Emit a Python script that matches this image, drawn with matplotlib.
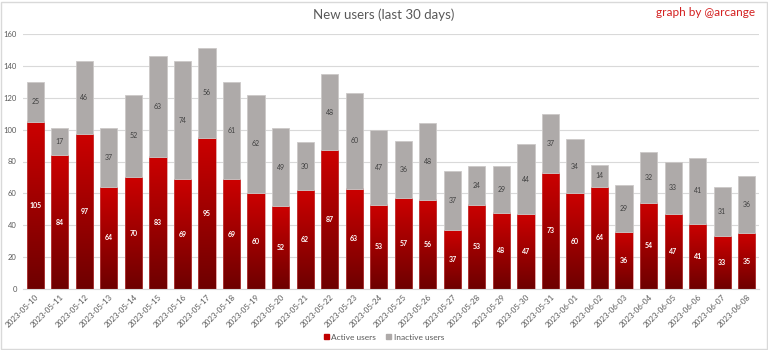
import numpy as np
import matplotlib
matplotlib.use("Agg")
import matplotlib.pyplot as plt
from matplotlib.colors import LinearSegmentedColormap
from matplotlib.patches import Rectangle

plt.rcParams['font.family'] = ['Lato', 'DejaVu Sans']

dates = ["2023-05-10", "2023-05-11", "2023-05-12", "2023-05-13", "2023-05-14",
         "2023-05-15", "2023-05-16", "2023-05-17", "2023-05-18", "2023-05-19",
         "2023-05-20", "2023-05-21", "2023-05-22", "2023-05-23", "2023-05-24",
         "2023-05-25", "2023-05-26", "2023-05-27", "2023-05-28", "2023-05-29",
         "2023-05-30", "2023-05-31", "2023-06-01", "2023-06-02", "2023-06-03",
         "2023-06-04", "2023-06-05", "2023-06-06", "2023-06-07", "2023-06-08"]
active = [105, 84, 97, 64, 70, 83, 69, 95, 69, 60, 52, 62, 87, 63, 53,
          57, 56, 37, 53, 48, 47, 73, 60, 64, 36, 54, 47, 41, 33, 35]
inactive = [25, 17, 46, 37, 52, 63, 74, 56, 61, 62, 49, 30, 48, 60, 47,
            36, 48, 37, 24, 29, 44, 37, 34, 14, 29, 32, 33, 41, 31, 36]
y_ticks = [0, 20, 40, 60, 80, 100, 120, 140, 160]

red_top = "#CC0000"
red_bottom = "#6E0000"
gray_fill = "#AEAAA9"
text_gray = "#595959"

fig = plt.figure(figsize=(7.68, 3.5), dpi=100)
fig.patch.set_facecolor("white")
ax = fig.add_axes([23 / 768, 61 / 350, 736 / 768, 255 / 350])

x = np.arange(len(dates))
width = 0.7
active_bars = ax.bar(x, active, width, color="none", edgecolor="#D06060",
                     linewidth=0.4, zorder=3, label="Active users")
inactive_bars = ax.bar(x, inactive, width, bottom=active, color=gray_fill,
                       edgecolor="#CCC9C8", linewidth=0.6, zorder=3,
                       label="Inactive users")

# vertical red gradient inside each active bar
cmap = LinearSegmentedColormap.from_list("redgrad", [red_bottom, red_top])
grad = np.linspace(0, 1, 256).reshape(-1, 1)
for bar in active_bars:
    bx, bw, bh = bar.get_x(), bar.get_width(), bar.get_height()
    ax.imshow(grad, cmap=cmap, origin="lower", aspect="auto",
              extent=(bx, bx + bw, 0, bh), zorder=2.5,
              interpolation="bicubic")

ax.set_xlim(-0.5, len(dates) - 0.5)
ax.set_ylim(0, 160)

# value labels centred in each segment
for i, (a, n) in enumerate(zip(active, inactive)):
    ax.text(i, a / 2, str(a), ha="center", va="center", fontsize=5,
            color="white", fontweight="bold", zorder=5)
    ax.text(i, a + n / 2, str(n), ha="center", va="center", fontsize=5,
            color="#404040", zorder=5)

ax.set_yticks(y_ticks)
ax.set_yticklabels([str(v) for v in y_ticks], fontsize=5.5, color=text_gray)
ax.set_xticks(x)
ax.set_xticklabels(dates, rotation=45, ha="right", rotation_mode="anchor",
                   fontsize=5.8, color=text_gray)
ax.tick_params(axis="both", length=0, pad=3)
ax.tick_params(axis="y", pad=4.5)
ax.grid(axis="y", color="#D9D9D9", linewidth=0.8, zorder=0)
ax.set_axisbelow(True)
for side in ["top", "right", "left"]:
    ax.spines[side].set_visible(False)
ax.spines["bottom"].set_color("#D9D9D9")
ax.spines["bottom"].set_linewidth(0.8)

fig.text(0.5, 1 - 15 / 350, "New users (last 30 days)", ha="center",
         va="center", fontsize=9.5, color=text_gray)
fig.text(1 - 13 / 768, 1 - 13 / 350, "graph by @arcange", ha="right",
         va="center", fontsize=8.5, color="#D42020")

handles = [Rectangle((0, 0), 1, 1, color="#C00000"),
           Rectangle((0, 0), 1, 1, color=gray_fill)]
leg = fig.legend(handles, ["Active users", "Inactive users"], loc="center",
                 bbox_to_anchor=(0.5, 1 - 337 / 350), ncol=2, frameon=False,
                 fontsize=6, handlelength=0.6, handleheight=0.6,
                 handletextpad=0.3, columnspacing=1.2)
for t in leg.get_texts():
    t.set_color(text_gray)

fig.add_artist(Rectangle((1 / 768, 1 / 350), 766 / 768, 347 / 350,
                         transform=fig.transFigure, fill=False,
                         edgecolor="#D9D9D9", linewidth=1))

fig.savefig("out.png", dpi=100)
